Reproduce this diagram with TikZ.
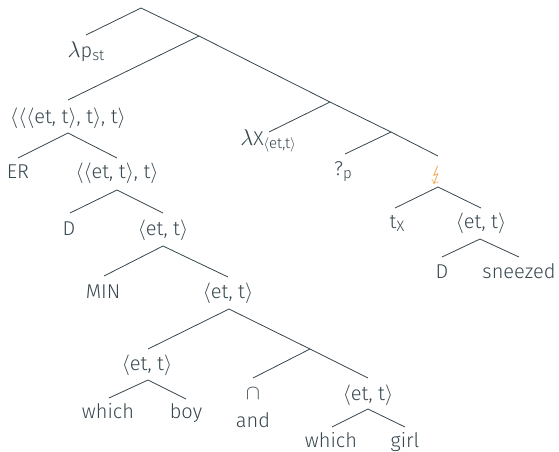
\documentclass[tikz,border=0pt]{standalone}
\usepackage{fontspec}
\setmainfont{Fira Sans Light}
\usepackage{stmaryrd}
\definecolor{ink}{HTML}{37474F}
\definecolor{bolt}{HTML}{F0A040}
\newcommand{\sbs}[1]{\raisebox{-0.35ex}{\fontsize{15}{15}\selectfont #1}}
\newcommand{\ang}[1]{$\langle$#1$\rangle$}
\newcommand{\lam}{\scalebox{1.1}{$\lambda$}}
\begin{document}
\begin{tikzpicture}[x=1pt,y=-1pt,
  every node/.style={text=ink, font=\fontsize{20}{22}\selectfont, inner sep=0pt, anchor=base},
  edge/.style={draw=ink, line width=0.8pt}]
\useasboundingbox (0,0) rectangle (559,451);
% branch points and line ends
\coordinate (root) at (141,8);
\coordinate (pst-t) at (86,35);
\coordinate (x1) at (199,36);
\coordinate (q3-t) at (68,100);
\coordinate (x2) at (330,102);
\coordinate (lx-t) at (269,132);
\coordinate (x3) at (391,132);
\coordinate (qp-t) at (345,154);
\coordinate (bolt-t) at (438,156);
\coordinate (bolt-b) at (438,187);
\coordinate (tx-t) at (395,208);
\coordinate (et4-t) at (481,208);
\coordinate (et4-b) at (480,239);
\coordinate (d2-t) at (442,257);
\coordinate (snz-t) at (519,257);
\coordinate (q3-b) at (68,133);
\coordinate (er-t) at (18,158);
\coordinate (q2-t) at (117,158);
\coordinate (q2-b) at (117,190);
\coordinate (d1-t) at (70,213);
\coordinate (et1-t) at (163,213);
\coordinate (et1-b) at (163,246);
\coordinate (min-t) at (104,276);
\coordinate (et2-t) at (228,277);
\coordinate (et2-b) at (229,309);
\coordinate (et3-t) at (148,349);
\coordinate (x4) at (310,349);
\coordinate (cap-t) at (253,378);
\coordinate (et5-t) at (368,378);
\coordinate (et3-b) at (148,380);
\coordinate (wh1-t) at (109,398);
\coordinate (boy-t) at (186,399);
\coordinate (et5-b) at (368,409);
\coordinate (wh2-t) at (332,427);
\coordinate (girl-t) at (405,427);
% connectors
\draw[edge] (root) -- (pst-t);
\draw[edge] (root) -- (x1);
\draw[edge] (x1) -- (q3-t);
\draw[edge] (x1) -- (x2);
\draw[edge] (x2) -- (lx-t);
\draw[edge] (x2) -- (x3);
\draw[edge] (x3) -- (qp-t);
\draw[edge] (x3) -- (bolt-t);
\draw[edge] (bolt-b) -- (tx-t);
\draw[edge] (bolt-b) -- (et4-t);
\draw[edge] (et4-b) -- (d2-t);
\draw[edge] (et4-b) -- (snz-t);
\draw[edge] (q3-b) -- (er-t);
\draw[edge] (q3-b) -- (q2-t);
\draw[edge] (q2-b) -- (d1-t);
\draw[edge] (q2-b) -- (et1-t);
\draw[edge] (et1-b) -- (min-t);
\draw[edge] (et1-b) -- (et2-t);
\draw[edge] (et2-b) -- (et3-t);
\draw[edge] (et2-b) -- (x4);
\draw[edge] (x4) -- (cap-t);
\draw[edge] (x4) -- (et5-t);
\draw[edge] (et3-b) -- (wh1-t);
\draw[edge] (et3-b) -- (boy-t);
\draw[edge] (et5-b) -- (wh2-t);
\draw[edge] (et5-b) -- (girl-t);
% labels
\node (pst) at (86,57) {\lam p\sbs{st}};
\node (q3) at (68,123) {\ang{\ang{\ang{et, t}, t}, t}};
\node (er) at (18,178) {ER};
\node (q2) at (117,178) {\ang{\ang{et, t}, t}};
\node (d1) at (69,235) {D};
\node (et1) at (163,235) {\ang{et, t}};
\node (min) at (103,298) {MIN};
\node (et2) at (228,298) {\ang{et, t}};
\node (lx) at (268,145) {\lam X\sbs{\ang{et,t}}};
\node (qp) at (343,175) {?\sbs{p}};
\node[text=bolt] (bolt) at (437,180) {$\lightning$};
\node (tx) at (397,228) {t\sbs{X}};
\node (et4) at (481,228) {\ang{et, t}};
\node (d2) at (442,278) {D};
\node (snz) at (519,278) {sneezed};
\node (et3) at (147,370) {\ang{et, t}};
\node (wh1) at (108,418) {which};
\node (boy) at (186,418) {boy};
\node (cap) at (253,399) {$\cap$};
\node (and) at (253,427) {and};
\node (et5) at (368,400) {\ang{et, t}};
\node (wh2) at (331,447) {which};
\node (girl) at (405,447) {girl};
\end{tikzpicture}
\end{document}
